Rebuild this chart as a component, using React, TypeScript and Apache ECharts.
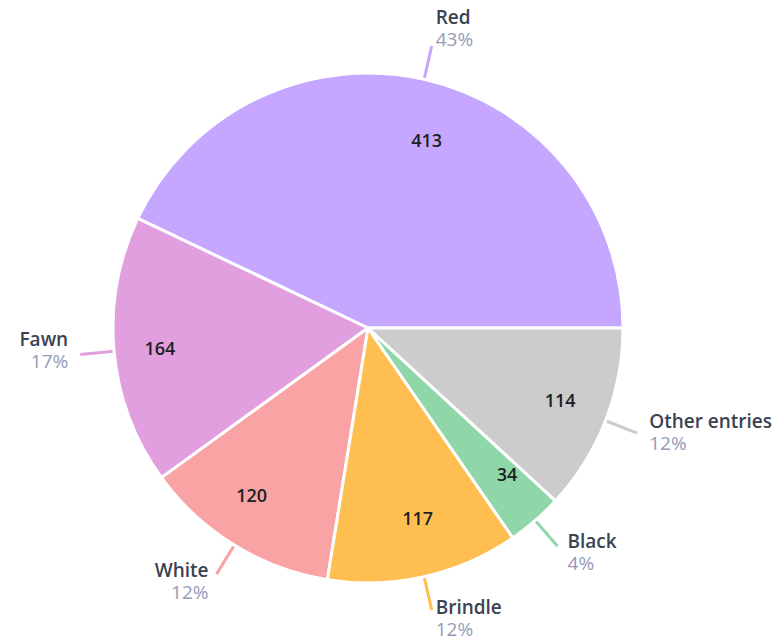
import React, { useEffect, useRef } from "react";
import * as echarts from "echarts";

const categories = ["Red", "Fawn", "White", "Brindle", "Black", "Other entries"];
const values = [413, 164, 120, 117, 34, 114];
const colors = ["#C5A7FF", "#E29FE0", "#F9A3A4", "#FFBF50", "#8FD7A8", "#CCCCCC"];

const FONT = "'Open Sans'";

// per-slice fine tuning of outer label boxes (padding: top, right, bottom, left)
const outerPad = [
  [0, 0, 38, 0],
  [0, 8, 10, 0],
  [12, 4, 0, 0],
  [16, 0, 0, 0],
  [10, 0, 0, 6],
  [0, 0, 4, 8],
];
// per-slice nudges of value labels [dx, dy]
const innerShift = [
  [14, 10],
  [-6, 1],
  [-10, -6],
  [5, -8],
  [6, -7],
  [3, -2],
];

export default function App() {
  const ref = useRef<HTMLDivElement>(null);
  useEffect(() => {
    if (!ref.current) return;
    const chart = echarts.init(ref.current, undefined, { renderer: "svg" });
    const data = categories.map((c, i) => ({
      name: c,
      value: values[i],
      itemStyle: { color: colors[i] },
      label: { padding: outerPad[i] },
    }));
    chart.setOption({
      animation: false,
      backgroundColor: "#ffffff",
      series: [
        {
          type: "pie",
          center: [368, 328],
          radius: 255,
          startAngle: 0,
          clockwise: false,
          avoidLabelOverlap: false,
          itemStyle: { borderColor: "#ffffff", borderWidth: 3 },
          label: {
            show: true,
            position: "outside",
            distanceToLabelLine: 4,
            formatter: (p: any) => `{n|${p.name}}\n{p|${Math.round(p.percent)}%}`,
            rich: {
              n: { fontFamily: FONT, fontSize: 19, fontWeight: 600, color: "#3B4252", lineHeight: 23 },
              p: { fontFamily: FONT, fontSize: 19, fontWeight: 400, color: "#949AB8", lineHeight: 21 },
            },
          },
          labelLine: { show: true, length: 34, length2: 0, lineStyle: { width: 3 } },
          emphasis: { disabled: true },
          data,
        },
        {
          type: "pie",
          center: [368, 328],
          radius: [148, 252],
          startAngle: 0,
          clockwise: false,
          silent: true,
          avoidLabelOverlap: false,
          itemStyle: { color: "rgba(0,0,0,0)", borderWidth: 0 },
          label: {
            show: true,
            position: "inside",
            formatter: (p: any) => `${p.value}`,
            fontFamily: FONT,
            fontSize: 18,
            fontWeight: 600,
            color: "#1C1F24",
          },
          labelLayout: (params: any) => ({
            dx: innerShift[params.dataIndex][0],
            dy: innerShift[params.dataIndex][1],
          }),
          labelLine: { show: false },
          emphasis: { disabled: true },
          data: categories.map((c, i) => ({ name: c, value: values[i] })),
        },
      ],
    });
    return () => chart.dispose();
  }, []);
  return (
    <div
      ref={ref}
      style={{ position: "fixed", left: 0, top: 0, width: 783, height: 638 }}
    />
  );
}
